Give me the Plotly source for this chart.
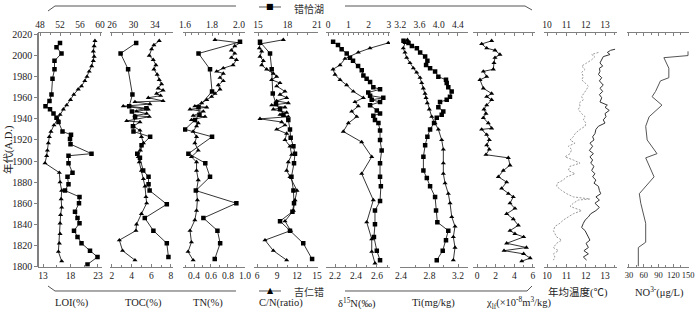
import plotly.graph_objects as go

W, H = 700, 314

# ---------------- data (years A.D. and values) ----------------
# LOI (%)
loi_cqh_year = [2012, 2008, 2002, 1995, 1987, 1978, 1963, 1957, 1952, 1949, 1945, 1941, 1937, 1928, 1925, 1921, 1916, 1907, 1905, 1898, 1889, 1885, 1878, 1872, 1866, 1860, 1852, 1846, 1841, 1834, 1828, 1822, 1815, 1809, 1802]
loi_cqh = [52.0, 51.3, 52.3, 50.9, 50.9, 50.5, 50.3, 49.9, 49.1, 50.0, 50.7, 51.3, 51.7, 52.5, 54.2, 54.0, 54.1, 58.3, 53.7, 53.7, 54.5, 53.5, 53.7, 53.0, 55.9, 55.8, 55.0, 55.5, 55.9, 54.8, 55.5, 56.3, 58.0, 59.5, 57.5]
loi_jrc_year = [2014, 2009, 2004, 1999, 1995, 1990, 1985, 1980, 1976, 1971, 1968, 1963, 1958, 1953, 1949, 1944, 1940, 1934, 1928, 1923, 1917, 1910, 1905, 1898, 1889, 1880, 1872, 1864, 1856, 1849, 1841, 1831, 1822, 1814, 1805]
loi_jrc = [22.45, 22.3, 22.15, 22.3, 22.15, 21.85, 21.4, 21.0, 20.6, 20.0, 19.4, 18.6, 18.0, 17.3, 16.7, 16.1, 15.6, 15.0, 14.45, 14.15, 13.97, 13.8, 13.67, 13.36, 15.97, 16.1, 16.4, 16.3, 16.4, 16.2, 16.1, 16.1, 15.97, 15.8, 16.4]

# TOC (%)
toc_cqh_year = [2012, 2002, 1987, 1963, 1952, 1950, 1947, 1942, 1933, 1928, 1923, 1915, 1907, 1903, 1891, 1885, 1878, 1872, 1859, 1846, 1834, 1822, 1809]
toc_cqh = [30.5, 27.6, 29.0, 29.8, 29.2, 32.4, 29.7, 30.3, 29.9, 30.0, 33.1, 31.5, 30.7, 31.2, 31.8, 32.8, 32.8, 33.0, 36.2, 32.1, 33.7, 36.2, 36.5]
toc_jrc_year = [2014, 2010, 2006, 2000, 1996, 1991, 1987, 1982, 1977, 1973, 1969, 1967, 1964, 1962, 1960, 1957, 1956, 1954, 1952, 1949, 1947, 1945, 1943, 1942, 1938, 1937, 1933, 1929, 1923, 1917, 1910, 1904, 1899, 1891, 1883, 1876, 1866, 1860, 1850, 1840, 1834, 1825, 1815, 1806]
toc_jrc = [6.81, 6.27, 6.03, 5.8, 6.2, 6.47, 6.27, 6.6, 6.81, 7.05, 6.7, 7.2, 6.54, 6.95, 5.7, 7.2, 4.34, 5.86, 3.15, 5.7, 4.5, 5.53, 4.34, 5.8, 3.5, 4.85, 4.17, 4.85, 5.0, 5.2, 4.9, 4.68, 4.78, 5.0, 5.2, 5.36, 5.46, 5.53, 5.0, 4.5, 4.44, 2.75, 3.08, 4.34]

# TN (%)
tn_cqh_year = [2013, 2002, 1987, 1966, 1951, 1944, 1939, 1930, 1923, 1907, 1898, 1885, 1872, 1860, 1846, 1834, 1822, 1807]
tn_cqh = [2.007, 1.70, 1.785, 1.80, 1.70, 1.707, 1.674, 1.60, 1.80, 1.625, 1.75, 1.785, 1.68, 1.98, 1.736, 1.84, 1.86, 1.82]
tn_jrc_year = [2015, 2012, 2009, 2005, 2002, 1998, 1996, 1991, 1988, 1985, 1983, 1979, 1976, 1972, 1968, 1964, 1961, 1958, 1955, 1952, 1951, 1949, 1947, 1943, 1942, 1939, 1936, 1933, 1928, 1923, 1917, 1910, 1904, 1899, 1891, 1882, 1872, 1863, 1853, 1844, 1834, 1823, 1814, 1806]
tn_jrc = [0.647, 0.94, 0.88, 0.84, 0.88, 0.84, 0.90, 0.86, 0.745, 0.667, 0.745, 0.706, 0.745, 0.686, 0.706, 0.647, 0.608, 0.55, 0.49, 0.41, 0.55, 0.353, 0.51, 0.39, 0.53, 0.37, 0.45, 0.43, 0.39, 0.43, 0.41, 0.45, 0.37, 0.43, 0.43, 0.45, 0.43, 0.44, 0.43, 0.41, 0.353, 0.37, 0.33, 0.39]

# C/N (ratio)
cn_cqh_year = [2013, 2002, 1987, 1964, 1954, 1949, 1944, 1939, 1930, 1922, 1914, 1907, 1898, 1885, 1872, 1860, 1852, 1843, 1834, 1822, 1807]
cn_cqh = [15.2, 16.22, 16.39, 16.5, 16.83, 17.24, 17.58, 18.08, 18.25, 18.32, 18.6, 18.76, 18.66, 18.4, 18.6, 18.66, 18.5, 17.24, 18.25, 19.6, 20.5]
cn_jrc_year = [2015, 2011, 2007, 2004, 1999, 1995, 1991, 1987, 1983, 1980, 1977, 1974, 1971, 1966, 1963, 1960, 1957, 1955, 1953, 1951, 1949, 1946, 1944, 1942, 1940, 1937, 1934, 1930, 1926, 1920, 1914, 1906, 1899, 1891, 1885, 1872, 1863, 1853, 1843, 1834, 1825, 1815, 1806]
cn_jrc = [9.95, 6.45, 6.35, 6.7, 6.45, 6.95, 6.7, 7.45, 8.45, 8.95, 8.2, 9.45, 8.95, 10.2, 9.45, 10.45, 8.95, 10.7, 8.2, 10.2, 8.45, 10.45, 9.45, 10.7, 6.45, 9.7, 10.2, 8.95, 10.45, 10.2, 10.95, 11.2, 10.7, 10.45, 10.95, 12.0, 11.7, 11.45, 10.2, 11.05, 7.2, 8.45, 10.45]

# delta 15N (permil)
d15n_cqh_year = [2013, 2010, 2006, 2002, 1998, 1995, 1990, 1986, 1981, 1978, 1975, 1970, 1968, 1965, 1962, 1960, 1958, 1956, 1953, 1948, 1945, 1943, 1939, 1936, 1929, 1920, 1910, 1898, 1885, 1876, 1862, 1853, 1840, 1828, 1815, 1806]
d15n_cqh = [0.25, 0.49, 0.67, 0.92, 1.08, 1.23, 1.48, 1.66, 1.74, 1.9, 2.07, 2.23, 2.56, 1.98, 2.07, 2.72, 2.15, 2.56, 2.07, 2.4, 2.56, 2.23, 2.31, 2.48, 2.56, 2.56, 2.64, 2.56, 2.56, 2.6, 2.56, 2.31, 2.31, 2.26, 2.4, 2.56]
d15n_jrc_year = [2012, 2007, 2003, 1997, 1991, 1987, 1982, 1977, 1972, 1966, 1960, 1956, 1952, 1947, 1942, 1936, 1928, 1918, 1904, 1888, 1863, 1842, 1826, 1814, 1803]
d15n_jrc = [2.708, 2.533, 2.422, 2.295, 2.248, 2.181, 2.2, 2.248, 2.311, 2.374, 2.47, 2.39, 2.422, 2.359, 2.407, 2.327, 2.279, 2.454, 2.55, 2.454, 2.565, 2.502, 2.55, 2.55, 2.581]

# Ti (mg/kg)
ti_cqh_year = [2014, 2012, 2009, 2007, 2003, 1999, 1995, 1991, 1988, 1985, 1980, 1977, 1974, 1970, 1966, 1961, 1958, 1956, 1951, 1947, 1944, 1941, 1936, 1930, 1923, 1915, 1904, 1891, 1884, 1876, 1866, 1853, 1842, 1834, 1825, 1815, 1806]
ti_cqh = [3.268, 3.372, 3.442, 3.546, 3.614, 3.718, 3.765, 3.738, 3.821, 3.925, 3.993, 4.152, 4.167, 4.2, 4.27, 4.235, 4.167, 4.028, 3.993, 4.096, 4.063, 3.96, 3.904, 3.821, 3.765, 3.718, 3.682, 3.682, 3.753, 3.821, 3.925, 3.945, 3.972, 4.2, 4.152, 4.084, 3.96]
ti_jrc_year = [2015, 2012, 2007, 2003, 1998, 1993, 1988, 1984, 1979, 1974, 1969, 1964, 1960, 1955, 1949, 1942, 1936, 1930, 1920, 1911, 1898, 1888, 1879, 1869, 1860, 1847, 1838, 1828, 1818, 1806]
ti_jrc = [2.49, 2.456, 2.432, 2.456, 2.48, 2.526, 2.573, 2.62, 2.667, 2.69, 2.713, 2.737, 2.751, 2.769, 2.797, 2.831, 2.877, 2.924, 2.971, 2.994, 2.994, 2.994, 3.018, 3.064, 3.088, 3.112, 3.158, 3.134, 3.158, 3.134]

# magnetic susceptibility chi_lf (1e-8 m3/kg)
chi_year = [2014, 2011, 2007, 2005, 2001, 1998, 1993, 1987, 1985, 1980, 1977, 1969, 1964, 1961, 1958, 1953, 1949, 1945, 1941, 1936, 1931, 1930, 1925, 1920, 1915, 1911, 1906, 1903, 1896, 1891, 1885, 1880, 1874, 1869, 1866, 1860, 1855, 1850, 1845, 1839, 1834, 1831, 1828, 1822, 1818, 1815, 1812, 1808, 1805]
chi = [1.57, 0.5, 1.04, 1.93, 2.46, 1.93, 1.82, 1.75, 0.68, 1.04, 0.32, 0.68, 1.57, 1.04, 1.57, 1.04, 0.75, 0.96, 0.68, 1.21, 1.57, 0.5, 1.04, 1.32, 1.04, 1.32, 0.96, 3.36, 3.54, 2.82, 2.29, 3.18, 2.64, 3.36, 3.89, 3.54, 4.07, 3.18, 3.89, 4.43, 3.54, 4.07, 5.0, 3.18, 5.3, 2.9, 5.0, 5.7, 4.8]

# annual mean temperature (deg C): dark solid and grey dashed records
temp_a_year = [2006, 2005, 2003, 2001, 1999, 1996, 1993, 1990, 1988, 1985, 1982, 1979, 1976, 1972, 1969, 1966, 1963, 1960, 1956, 1953, 1951, 1948, 1945, 1942, 1939, 1936, 1933, 1930, 1926, 1923, 1920, 1917, 1914, 1910, 1907, 1904, 1901, 1898, 1895, 1891, 1888, 1885, 1882, 1879, 1876, 1872, 1869, 1866, 1863, 1860, 1856, 1853, 1850, 1847, 1844, 1841, 1837, 1834, 1831, 1828, 1825, 1822, 1818, 1815, 1812, 1809, 1806]
temp_a = [13.52, 13.29, 13.12, 13.26, 12.91, 12.83, 12.74, 12.88, 12.71, 12.74, 12.66, 12.83, 12.71, 12.91, 12.74, 12.88, 12.71, 12.83, 12.74, 13.12, 13.0, 13.22, 13.0, 13.05, 12.91, 13.0, 12.66, 12.53, 12.48, 12.36, 12.43, 12.22, 12.36, 12.19, 12.4, 12.22, 12.36, 12.26, 12.43, 12.31, 12.48, 12.36, 12.53, 12.43, 12.66, 12.71, 12.78, 12.53, 12.71, 12.48, 12.71, 12.53, 12.26, 12.14, 11.97, 11.88, 11.79, 11.97, 12.05, 12.14, 12.22, 12.02, 12.14, 11.91, 12.14, 11.88, 12.05]
temp_b_year = [2003, 2001, 1999, 1996, 1993, 1990, 1987, 1984, 1980, 1977, 1974, 1971, 1968, 1964, 1961, 1958, 1955, 1952, 1949, 1945, 1942, 1939, 1936, 1933, 1930, 1926, 1923, 1920, 1917, 1914, 1911, 1907, 1904, 1901, 1898, 1895, 1891, 1888, 1885, 1882, 1879, 1876, 1872, 1869, 1866, 1864, 1863, 1860, 1857, 1853, 1850, 1847, 1844, 1841, 1838, 1834, 1831, 1828, 1825, 1822, 1818, 1815, 1812, 1809, 1806]
temp_b = [12.66, 12.31, 12.48, 12.31, 12.05, 11.79, 11.97, 11.79, 11.88, 11.79, 11.97, 12.14, 12.05, 11.91, 11.79, 11.88, 11.67, 11.71, 11.62, 11.79, 11.97, 11.88, 12.02, 11.97, 11.71, 11.45, 11.36, 11.19, 11.45, 11.10, 11.28, 11.19, 10.93, 11.36, 11.71, 11.19, 11.10, 11.45, 11.02, 10.84, 10.53, 10.50, 10.76, 11.02, 11.36, 12.22, 11.62, 11.36, 11.19, 11.79, 11.36, 11.10, 10.84, 10.67, 10.41, 10.33, 10.41, 10.50, 10.76, 10.50, 10.33, 10.59, 10.33, 10.41, 10.33]

# NO3- (ug/L)
no3_year = [2004, 2000, 1998, 1988, 1979, 1976, 1966, 1961, 1953, 1942, 1933, 1920, 1907, 1903, 1885, 1869, 1860, 1841, 1823, 1818, 1800]
no3 = [150, 150, 101, 111, 111, 94, 84, 77, 97, 71, 64, 67, 87, 64, 81, 51, 54, 64, 64, 49, 49]

name_cqh = "错恰湖"
name_jrc = "吉仁错"
titles_low = ["LOI(%)", "TOC(%)", "TN(%)", "C/N(ratio)", "δ<sup>15</sup>N(‰)", "Ti(mg/kg)",
              "χ<sub>lf</sub>(×10<sup>-8</sup>m<sup>3</sup>/kg)"]
titles_high = ["年均温度(℃)", "NO<sup>3-</sup>(μg/L)"]
y_title = "年代(A.D.)"

# ---------------- styling / layout ----------------
FONT = "Liberation Serif, Noto Sans CJK SC"
AX = "#808080"
TXT = "#222222"

def px_x(x):
    return x / W

def px_y(y):
    return 1 - y / H

y_dom = [px_y(266.5), px_y(33)]

panels = [
    # (x0, x1, bottom_range, bdtick, bminor, btick0, bfmt, top_range, tdtick, tminor, ttick0, tfmt, toplabels, fontsize)
    (38, 102, [12.09, 23.73], 5, 2.5, 13, "", [47.6, 60.4], 4, 2, 48, "", True, 9.5),
    (110, 173, [1.80, 8.21], 2, 1, 0, "", [25.63, 37.35], 4, 2, 26, "", True, 9.5),
    (183, 245, [0.2705, 1.0005], 0.2, 0.1, 0, ".1f", [1.585, 2.044], 0.2, 0.05, 0, ".1f", True, 9.5),
    (254, 318, [5.55, 15.15], 3, 1.5, 0, "", [14.59, 21.1], 3, 1, 0, "", True, 9.5),
    (326, 390, [2.114, 2.724], 0.2, 0.1, 0, ".1f", [-0.1, 3.05], 1, 0.25, 0, "", True, 9.5),
    (400, 468, [2.386, 3.34], 0.4, 0.2, 0, ".1f", [3.195, 4.61], 0.4, 0.2, 0, ".1f", True, 9.5),
    (473, 535, [-0.43, 6.22], 2, 1, 0, "", [-0.43, 6.22], 2, 1, 0, "", False, 9.5),
    (544, 617, [9.845, 13.62], 1, 0.5, 0, "", [9.845, 13.62], 1, 0.5, 0, "", True, 9.5),
    (627, 689, [26, 152], 30, 15, 0, "", [26, 152], 30, 15, 0, "", False, 8.5),
]

layout = dict(
    width=W, height=H, autosize=False,
    margin=dict(l=0, r=0, t=0, b=0, pad=0, autoexpand=False),
    paper_bgcolor="white", plot_bgcolor="white",
    showlegend=False,
    font=dict(family=FONT, size=10, color=TXT),
    yaxis=dict(domain=y_dom, range=[1800, 2021.4], anchor="free", position=px_x(38),
               showline=True, linecolor=AX, linewidth=1.5, ticks="outside", ticklen=3,
               tickcolor=AX, dtick=20, tick0=1800, showgrid=False, zeroline=False,
               tickfont=dict(family=FONT, size=10, color=TXT), fixedrange=True),
)

def make_ax(x0, x1, rng, dtick, minor, tick0, fmt, side, labels, fs, overlay=None):
    d = dict(domain=[px_x(x0), px_x(x1)], range=rng, anchor="y", side=side,
             showline=True, linecolor=AX, linewidth=1, mirror=False,
             ticks="inside", ticklen=3, tickwidth=1, tickcolor=AX,
             dtick=dtick, tick0=tick0, tickformat=fmt, tickangle=0,
             showgrid=False, zeroline=False, showticklabels=labels,
             tickfont=dict(family=FONT, size=fs, color=TXT),
             minor=dict(dtick=minor, tick0=tick0, ticks="inside", ticklen=2,
                        tickcolor=AX, showgrid=False),
             fixedrange=True)
    if overlay:
        d["overlaying"] = overlay
    return d

for i, p in enumerate(panels):
    (x0, x1, brng, bd, bm, bt0, bf, trng, td, tm, tt0, tf, tl, fs) = p
    bname = "xaxis" if i == 0 else f"xaxis{i + 1}"
    layout[bname] = make_ax(x0, x1, brng, bd, bm, bt0, bf, "bottom", True, fs)
    layout[f"xaxis{i + 10}"] = make_ax(x0, x1, trng, td, tm, tt0, tf, "top", tl, fs,
                                        overlay="x" if i == 0 else f"x{i + 1}")

fig = go.Figure()

def xb(i):
    return "x" if i == 0 else f"x{i + 1}"

def xt(i):
    return f"x{i + 10}"

sq = dict(symbol="square", size=4.5, color="black")
tri = dict(symbol="triangle-up", size=4.5, color="black")
ln = dict(color="black", width=0.8)

cqh_series = [(loi_cqh, loi_cqh_year), (toc_cqh, toc_cqh_year), (tn_cqh, tn_cqh_year),
              (cn_cqh, cn_cqh_year), (d15n_cqh, d15n_cqh_year), (ti_cqh, ti_cqh_year)]
jrc_series = [(loi_jrc, loi_jrc_year), (toc_jrc, toc_jrc_year), (tn_jrc, tn_jrc_year),
              (cn_jrc, cn_jrc_year), (d15n_jrc, d15n_jrc_year), (ti_jrc, ti_jrc_year),
              (chi, chi_year)]

for i, (v, yr) in enumerate(jrc_series):
    fig.add_trace(go.Scatter(x=v, y=yr, xaxis=xb(i), yaxis="y", mode="lines+markers",
                             line=ln, marker=tri, name=name_jrc, hoverinfo="skip"))
for i, (v, yr) in enumerate(cqh_series):
    fig.add_trace(go.Scatter(x=v, y=yr, xaxis=xt(i), yaxis="y", mode="lines+markers",
                             line=ln, marker=sq, name=name_cqh, hoverinfo="skip"))

# temperature
fig.add_trace(go.Scatter(x=temp_b, y=temp_b_year, xaxis=xb(7), yaxis="y", mode="lines",
                         line=dict(color="#9a9a9a", width=1, dash="2px,1.5px"), hoverinfo="skip"))
fig.add_trace(go.Scatter(x=temp_a, y=temp_a_year, xaxis=xb(7), yaxis="y", mode="lines",
                         line=dict(color="#333333", width=1), hoverinfo="skip"))
# nitrate
fig.add_trace(go.Scatter(x=no3, y=no3_year, xaxis=xb(8), yaxis="y", mode="lines",
                         line=dict(color="#555555", width=1), hoverinfo="skip"))
# keep the unused top axes drawn
for i in (6, 7, 8):
    fig.add_trace(go.Scatter(x=[], y=[], xaxis=xt(i), yaxis="y"))

# brackets and legend keys
def pth(pts):
    return "M" + " L".join(f"{px_x(a):.5f},{px_y(b):.5f}" for a, b in pts)

shapes = []
for pts in ([(48, 11), (55, 6), (236, 6)], [(345, 6), (525, 6), (532, 10)],
            [(48, 286), (55, 291), (236, 291)], [(345, 291), (527, 291), (532, 286)],
            [(259, 7), (281, 7)], [(259, 291), (281, 291)]):
    shapes.append(dict(type="path", xref="paper", yref="paper", path=pth(pts),
                       line=dict(color="#555555", width=1)))
layout["shapes"] = shapes

ann = []
def add_text(t, x, y, size=10.5, anchor="center", angle=0, family=FONT, color=TXT):
    ann.append(dict(text=t, x=px_x(x), y=px_y(y), xref="paper", yref="paper",
                    showarrow=False, xanchor=anchor, yanchor="middle", textangle=angle,
                    font=dict(family=family, size=size, color=color)))

low_x = [72, 143, 208, 281, 357, 433, 518]
for t, x in zip(titles_low, low_x):
    add_text(t, x, 303, size=10.5)
for t, x in zip(titles_high, [578, 659]):
    add_text(t, x, 292, size=10.5)
add_text(y_title, 8, 150, size=10.5, angle=-90)

# legend keys (marker + name)
add_text("■", 270, 7, size=8, family="DejaVu Sans", color="black")
add_text(name_cqh, 292, 8.5, size=10, anchor="left", family="Noto Sans CJK SC", color="#333")
add_text("▲", 270, 290.5, size=8, family="DejaVu Sans", color="black")
add_text(name_jrc, 292, 291, size=10, anchor="left", family="Noto Sans CJK SC", color="#333")
layout["annotations"] = ann

fig.update_layout(**layout)
fig.write_html("out.html", config={"displayModeBar": False},
               post_script="document.body.style.margin='0';document.body.style.overflow='hidden';")
